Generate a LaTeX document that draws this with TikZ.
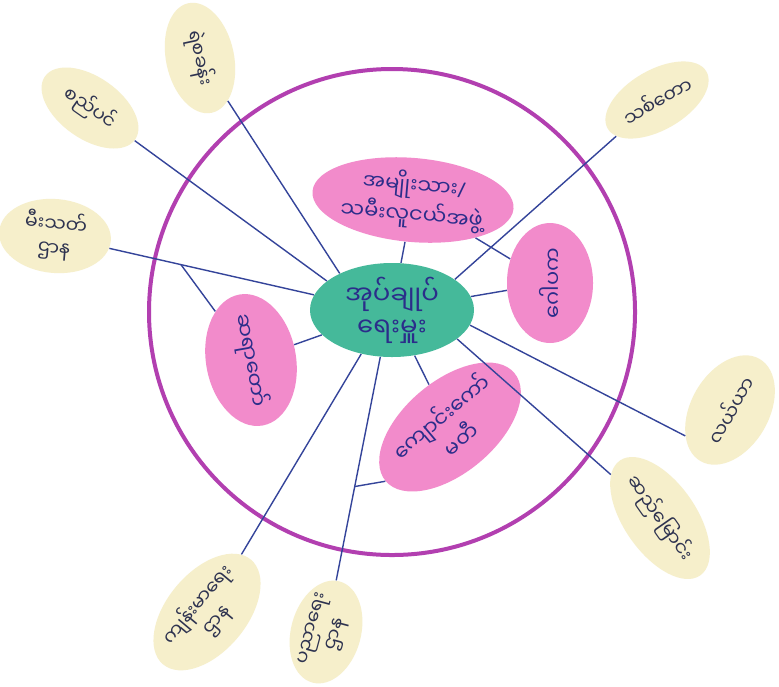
\documentclass[tikz,border=0pt]{standalone}
\usepackage{fontspec}
\newfontfamily\mmfont[Script=Myanmar]{Noto Sans Myanmar UI}
\newfontfamily\slashfont{Noto Sans}
\usepackage{tikz}
\usetikzlibrary{shapes.geometric}
\definecolor{ringpurple}{HTML}{B23FB0}
\definecolor{hubteal}{HTML}{45B99A}
\definecolor{grouppink}{HTML}{F28BCB}
\definecolor{officecream}{HTML}{F6EFCB}
\definecolor{inkblue}{HTML}{2B2D8A}
\definecolor{inkgrey}{HTML}{2E3350}
\definecolor{linkblue}{HTML}{34449A}

\begin{document}
\begin{tikzpicture}[x=0.5pt,y=-0.5pt,
  blob/.style={ellipse,inner sep=0pt,align=center},
  hub/.style={blob,fill=hubteal,text=inkblue,font=\mmfont\fontsize{13}{16}\selectfont},
  group/.style={blob,fill=grouppink,text=inkblue,font=\mmfont\fontsize{10.5}{13}\selectfont},
  office/.style={blob,fill=officecream,text=inkgrey,font=\mmfont\fontsize{9.5}{12}\selectfont},
  link/.style={draw=linkblue,line width=0.7pt}
]
  \useasboundingbox[fill=white] (0,0) rectangle (779,686);
  \node[circle,draw=ringpurple,line width=2pt,minimum size=243pt] (ring) at (392,312) {};

  \node[hub,minimum width=82pt,minimum height=47pt] (admin) at (392,310) {အုပ်ချုပ်\\ရေးမှူး};
  \node[group,rotate=-5,minimum width=92pt,minimum height=42pt] (youth) at (413,200) {အမျိုးသား{\slashfont/}\\သမီးလူငယ်အဖွဲ့};
  \node[group,rotate=90,minimum width=60pt,minimum height=43pt] (trustee) at (550,283) {ဂေါပက};
  \node[group,rotate=-80,minimum width=57pt,minimum height=45pt] (monk) at (251,360) {ဆရာတော်};
  \node[group,rotate=40,minimum width=80pt,minimum height=46pt] (school) at (450,427) {ကျောင်းကော်\\မတီ};

  \node[office,rotate=-78,minimum width=56pt,minimum height=34pt] (police) at (200,58) {ရဲစခန်း};
  \node[office,rotate=-35,minimum width=55pt,minimum height=31pt] (municipal) at (90,108) {စည်ပင်};
  \node[office,rotate=-5,minimum width=56pt,minimum height=37pt] (fire) at (55,236) {မီးသတ်\\ဌာန};
  \node[office,rotate=30,minimum width=57pt,minimum height=30pt] (forest) at (657,100) {သစ်တော};
  \node[office,rotate=60,minimum width=59pt,minimum height=39pt] (farm) at (730,410) {လယ်ယာ};
  \node[office,rotate=-55,minimum width=70pt,minimum height=36pt] (irrigation) at (660,518) {ဆည်မြောင်း};
  \node[office,rotate=50,minimum width=52pt,minimum height=40pt] (health) at (207,612) {ကျန်းမာရေး\\ဌာန};
  \node[office,rotate=75,minimum width=52pt,minimum height=35pt] (education) at (326,632) {ပညာရေး\\ဌာန};

  \draw[link] (police) -- (admin.145);
  \draw[link] (municipal) -- (admin.156);
  \draw[link] (fire) -- coordinate[pos=0.35] (firejoin) (admin.169);
  \draw[link] (firejoin) -- (monk);
  \draw[link] (forest) -- (admin.26);
  \draw[link] (farm.150) -- (admin.-11);
  \draw[link] (irrigation) -- (admin.-24);
  \draw[link] (health) -- (admin.-125);
  \draw[link] (education) -- coordinate[pos=0.42] (edujoin) (admin.-104);
  \draw[link] (edujoin) -- (school.west);
  \draw[link] (youth) -- (admin);
  \draw[link] (youth) -- (trustee);
  \draw[link] (trustee) -- (admin);
  \draw[link] (monk) -- (admin);
  \draw[link] (school) -- (admin);
\end{tikzpicture}
\end{document}
